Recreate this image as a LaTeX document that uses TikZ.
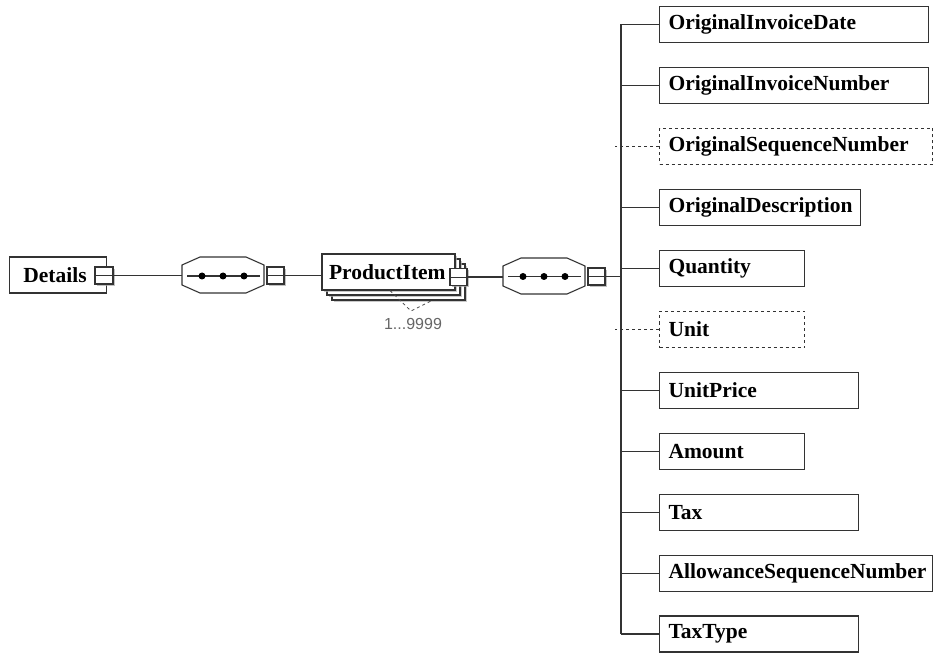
\documentclass[tikz,border=0pt]{standalone}
\usepackage{fontspec}
\setmainfont{Liberation Serif}
\setsansfont{Liberation Sans}
\usetikzlibrary{shadows}
\tikzset{
  ln/.style={draw=black!80, line width=1.1pt},
  elem/.style={ln, fill=white, anchor=west, minimum height=36pt, inner xsep=9pt, inner ysep=0pt, align=left,
    font=\fontsize{21.5}{24}\selectfont\bfseries},
  optelem/.style={elem, dashed},
  sq/.style={ln, fill=white, minimum width=17pt, minimum height=17pt, inner sep=0pt,
    drop shadow={shadow xshift=2pt, shadow yshift=-2pt, fill=black!35, opacity=0.7},
    path picture={\draw[black!80, line width=0.8pt] (path picture bounding box.west) -- (path picture bounding box.east);}},
  stackbox/.style={ln, fill=white, minimum width=133pt, minimum height=36pt, inner sep=0pt,
    drop shadow={shadow xshift=2pt, shadow yshift=-2pt, fill=black!30, opacity=0.7}},
  seqarea/.style={minimum width=82pt, minimum height=36pt, inner sep=0pt},
  octo/.style={ln, fill=white},
  dotmark/.style={fill=black, circle, inner sep=0pt, minimum size=7pt},
  conn/.style={draw=black!80, line width=1.1pt},
  optconn/.style={draw=black!80, line width=1.1pt, dashed},
}
\begin{document}
\begin{tikzpicture}[x=1pt,y=-1pt]
\useasboundingbox (0,0) rectangle (935,655);

% Details
\node[ln, fill=white, minimum width=97pt, minimum height=36pt, inner sep=0pt, anchor=west,
  font=\fontsize{21.5}{24}\selectfont\bfseries] (details) at (9,275) {\hspace*{-6pt}Details};
\node[sq, minimum width=18pt] (dsq) at (104,275.5) {};

% sequence 1
\node[seqarea] (seq1) at (223,275) {};
\draw[octo, shift={(seq1.center)}] (-41,-10) -- (-23,-18) -- (23,-18) -- (41,-10) -- (41,10) -- (23,18) -- (-23,18) -- (-41,10) -- cycle;
\draw[conn, shift={(seq1.center)}] (-36,1) -- (37,1);
\node[dotmark] (d11) at ([shift={(-21,1)}]seq1.center) {};
\node[dotmark] (d12) at ([shift={(0,1)}]seq1.center) {};
\node[dotmark] (d13) at ([shift={(21,1)}]seq1.center) {};
\node[sq] (sq1) at (275.5,275.5) {};

\draw[conn] (dsq.east) -- (dsq.east -| seq1.west);

% ProductItem stack
\node[stackbox] (pi3) at (398.5,282) {};
\node[stackbox] (pi2) at (393.5,277) {};
\node[stackbox, anchor=center, font=\fontsize{21.5}{24}\selectfont\bfseries, align=left, text width=119pt, inner xsep=7pt] (pi) at (388.5,272) {ProductItem};
\node[sq] (pisq) at (458.5,277) {};

\draw[conn] (sq1.east) -- (sq1.east -| pi.west);

% multiplicity
\node[font=\sffamily\fontsize{16}{18}\selectfont, text=black!60, inner sep=0pt] (mult) at (413,324) {1...9999};
\coordinate (vb) at (411,311);
\draw[dashed, draw=black!70, line width=0.8pt] (pi.south -| 390,0) -- (vb) -- (pi3.south -| 432,0);

% sequence 2
\node[seqarea] (seq2) at (544,276) {};
\draw[octo, shift={(seq2.center)}] (-41,-10) -- (-23,-18) -- (23,-18) -- (41,-10) -- (41,10) -- (23,18) -- (-23,18) -- (-41,10) -- cycle;
\draw[conn, shift={(seq2.center)}] (-36,0.5) -- (37,0.5);
\node[dotmark] (d21) at ([shift={(-21,0.5)}]seq2.center) {};
\node[dotmark] (d22) at ([shift={(0,0.5)}]seq2.center) {};
\node[dotmark] (d23) at ([shift={(21,0.5)}]seq2.center) {};
\node[sq] (sq2) at (596.5,276.5) {};

\draw[conn] (pisq.east) -- (pisq.east -| seq2.west);

% children
\node[elem, text width=251pt] (c0) at (659,24.5) {OriginalInvoiceDate};
\node[elem, text width=251pt] (c1) at (659,85.5) {OriginalInvoiceNumber};
\node[optelem, text width=255pt] (c2) at (659,146.5) {OriginalSequenceNumber};
\node[elem, text width=183pt] (c3) at (659,207.5) {OriginalDescription};
\node[elem, text width=127pt] (c4) at (659,268.5) {Quantity};
\node[optelem, text width=127pt] (c5) at (659,329.5) {Unit};
\node[elem, text width=181pt] (c6) at (659,390.5) {UnitPrice};
\node[elem, text width=127pt] (c7) at (659,451.5) {Amount};
\node[elem, text width=181pt] (c8) at (659,512.5) {Tax};
\node[elem, text width=255pt] (c9) at (659,573.5) {AllowanceSequenceNumber};
\node[elem, text width=181pt] (c10) at (659,634) {TaxType};

\coordinate (tr) at (621,276);
\draw[conn, line width=1.8pt] (sq2.east) -- (sq2.east -| tr);
\draw[conn] (c0.west -| tr) -- (c10.west -| tr);
\foreach \i in {0,1,3,4,6,7,8,9,10} {
  \draw[conn] (c\i.west) -- (c\i.west -| tr);
}
\foreach \i in {2,5} {
  \draw[optconn] (c\i.west) -- ([xshift=-6pt]c\i.west -| tr);
}
\end{tikzpicture}
\end{document}
